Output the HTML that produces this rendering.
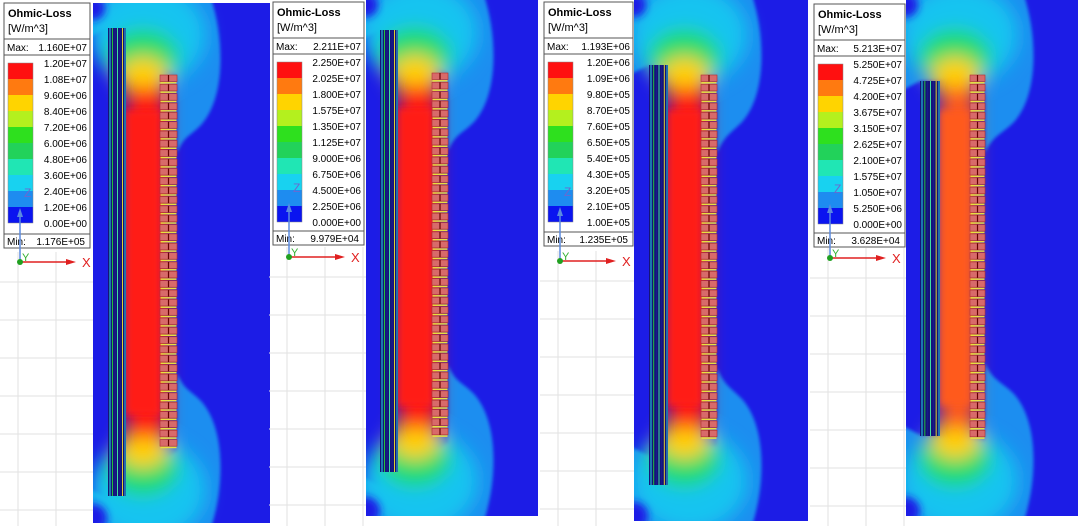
<!DOCTYPE html>
<html><head><meta charset="utf-8"><style>
body{margin:0;background:#fff;width:1080px;height:526px;overflow:hidden}
svg{display:block}
text{font-family:"Liberation Sans",sans-serif}
</style></head><body>
<svg id="s" width="1080" height="526" viewBox="0 0 1080 526" xmlns="http://www.w3.org/2000/svg">
<defs>
<filter id="b" x="-50%" y="-50%" width="200%" height="200%"><feGaussianBlur stdDeviation="9"/></filter>
<filter id="b2" x="-30%" y="-30%" width="160%" height="160%"><feGaussianBlur stdDeviation="4"/></filter>
<filter id="b1" x="-10%" y="-10%" width="120%" height="120%"><feGaussianBlur stdDeviation="1.5"/></filter>
</defs>
</svg>
<script>
const P=[
{lx:4,ly:3,lw:86,lh:245,fx:93,fy:3,fw:177,fh:520,w1:108,w2:126,wt:28,wb:496,c1:160,c2:177,ct:75,cb:450,ay:262,
 core:"#ff1e14",title:["1.160E+07","1.176E+05"],vals:["1.20E+07","1.08E+07","9.60E+06","8.40E+06","7.20E+06","6.00E+06","4.80E+06","3.60E+06","2.40E+06","1.20E+06","0.00E+00"]},
{lx:273,ly:2,lw:91,lh:243,fx:366,fy:0,fw:172,fh:516,w1:380,w2:398,wt:30,wb:472,c1:432,c2:448,ct:73,cb:441,ay:257,
 core:"#ff1e14",title:["2.211E+07","9.979E+04"],vals:["2.250E+07","2.025E+07","1.800E+07","1.575E+07","1.350E+07","1.125E+07","9.000E+06","6.750E+06","4.500E+06","2.250E+06","0.000E+00"]},
{lx:544,ly:2,lw:89,lh:244,fx:634,fy:0,fw:174,fh:521,w1:649,w2:668,wt:65,wb:485,c1:701,c2:717,ct:75,cb:441,ay:261,
 core:"#ff1e14",title:["1.193E+06","1.235E+05"],vals:["1.20E+06","1.09E+06","9.80E+05","8.70E+05","7.60E+05","6.50E+05","5.40E+05","4.30E+05","3.20E+05","2.10E+05","1.00E+05"]},
{lx:814,ly:4,lw:91,lh:243,fx:906,fy:0,fw:172,fh:516,w1:920,w2:940,wt:81,wb:436,c1:970,c2:985,ct:75,cb:441,ay:258,
 core:"#ff5a1e",title:["5.213E+07","3.628E+04"],vals:["5.250E+07","4.725E+07","4.200E+07","3.675E+07","3.150E+07","2.625E+07","2.100E+07","1.575E+07","1.050E+07","5.250E+06","0.000E+00"]}
];
const sw=["#ff1010","#ff7a10","#ffd400","#b4f01e","#2ee01e","#22d25a","#20e6b4","#18d2f0","#1e8cf0","#0a14f0"];
let h="";
P.forEach((p,i)=>{
 const gx0=p.lx-4, gx1=p.fx;
 for(let y=p.ay+20;y<526;y+=38) h+=`<line x1="${gx0}" y1="${y}" x2="${gx1}" y2="${y}" stroke="#e2e2e2"/>`;
 for(let x=p.lx+14;x<gx1;x+=38) h+=`<line x1="${x}" y1="${p.ay-10}" x2="${x}" y2="526" stroke="#e2e2e2"/>`;
 const cid="c"+i, X=p.fx, cr=p.c2, mx=(p.w2+p.c1)/2, Y0=p.fy, H=p.fy+p.fh;
 h+=`<clipPath id="${cid}"><rect x="${p.fx}" y="${p.fy}" width="${p.fw}" height="${p.fh}"/></clipPath>`;
 h+=`<g clip-path="url(#${cid})"><rect x="${p.fx}" y="${p.fy}" width="${p.fw}" height="${p.fh}" fill="#1c1ce6"/>`;
 const top=`M${X-5},${Y0-5} L${X+118},${Y0-5} C${X+132},${Y0+40} ${X+132},${Y0+95} ${X+108},${Y0+122} C${X+95},${Y0+135} ${cr+8},${p.ct+60} ${cr},${p.ct+78} L${cr},${p.ct} L${p.w1},${p.wt} L${X-5},${p.wt+10} Z`;
 h+=`<g filter="url(#b1)"><path d="${top}" fill="#1f8ef0"/><path d="${top}" fill="#1f8ef0" transform="translate(0,${Y0+H}) scale(1,-1)"/></g>`;
 h+=`<g filter="url(#b)">`;
 [[p.ct,-1],[p.cb,1]].forEach(([cy,d])=>{
  h+=`<ellipse cx="${mx+5}" cy="${cy+d*40}" rx="58" ry="50" fill="#18c4f0"/>`;
  h+=`<ellipse cx="${mx}" cy="${cy+d*18}" rx="36" ry="28" fill="#22dc6a"/>`;
  h+=`<ellipse cx="${mx}" cy="${cy-d*2}" rx="24" ry="20" fill="#ffd000"/>`;
 });
 h+=`<rect x="${p.w2}" y="${p.ct+12}" width="${p.c1-p.w2+6}" height="${p.cb-p.ct-24}" fill="${p.core}"/>`;
 h+=`</g>`;
 h+=`<rect x="${p.w2}" y="${p.ct+35}" width="${p.c1-p.w2}" height="${p.cb-p.ct-70}" fill="${p.core}" filter="url(#b2)"/>`;
 h+=`<ellipse cx="${p.fx}" cy="${p.fy+5}" rx="12" ry="12" fill="#1c1ce6" filter="url(#b2)"/>`;
 h+=`<ellipse cx="${p.fx}" cy="${p.fy+p.fh-5}" rx="14" ry="14" fill="#1c1ce6" filter="url(#b2)"/>`;
 const ww=p.w2-p.w1;
 h+=`<rect x="${p.w1}" y="${p.wt}" width="${ww}" height="${p.wb-p.wt}" fill="#141478"/>`;
 const cols=["#1fd8e8","#22c040","#1a1a90","#40e0a0","#1a1a90","#e0d030","#30c8e0"];
 for(let k=0;k<7;k++){const x=p.w1+2+k*(ww-3)/6;h+=`<line x1="${x}" y1="${p.wt}" x2="${x}" y2="${p.wb}" stroke="${cols[k]}" stroke-width="1"/>`;}
 for(let y=p.ct;y<p.cb-5;y+=9.35){
  h+=`<rect x="${p.c1}" y="${y}" width="${p.c2-p.c1}" height="6.5" fill="#d86a6a" stroke="#b03030" stroke-width="0.6"/>`;
  h+=`<line x1="${(p.c1+p.c2)/2}" y1="${y}" x2="${(p.c1+p.c2)/2}" y2="${y+6.5}" stroke="#600" stroke-width="1.2"/>`;
  h+=`<line x1="${p.c1+0.5}" y1="${y+7.8}" x2="${p.c2-0.5}" y2="${y+7.8}" stroke="#e8e040" stroke-width="1.5"/>`;
 }
 h+=`</g>`;
 h+=`<rect x="${p.lx}" y="${p.ly}" width="${p.lw}" height="${p.lh}" fill="#fff" stroke="#555"/>`;
 h+=`<text x="${p.lx+4}" y="${p.ly+14}" font-size="11" font-weight="bold">Ohmic-Loss</text>`;
 h+=`<text x="${p.lx+4}" y="${p.ly+29}" font-size="11">[W/m^3]</text>`;
 h+=`<line x1="${p.lx}" y1="${p.ly+36}" x2="${p.lx+p.lw}" y2="${p.ly+36}" stroke="#555"/>`;
 h+=`<text x="${p.lx+3}" y="${p.ly+48}" font-size="10">Max:</text><text x="${p.lx+p.lw-3}" y="${p.ly+48}" font-size="10" text-anchor="end">${p.title[0]}</text>`;
 h+=`<line x1="${p.lx}" y1="${p.ly+52}" x2="${p.lx+p.lw}" y2="${p.ly+52}" stroke="#555"/>`;
 const sy=p.ly+60, sh=16;
 sw.forEach((c,k)=>h+=`<rect x="${p.lx+4}" y="${sy+k*sh}" width="25" height="${sh}" fill="${c}"/>`);
 h+=`<rect x="${p.lx+4}" y="${sy}" width="25" height="${sh*10}" fill="none" stroke="#888" stroke-width="0.5"/>`;
 p.vals.forEach((v,k)=>h+=`<text x="${p.lx+p.lw-3}" y="${sy+k*sh+4}" font-size="10" text-anchor="end">${v}</text>`);
 h+=`<line x1="${p.lx}" y1="${p.ly+p.lh-14}" x2="${p.lx+p.lw}" y2="${p.ly+p.lh-14}" stroke="#555"/>`;
 h+=`<text x="${p.lx+3}" y="${p.ly+p.lh-3}" font-size="10">Min:</text><text x="${p.lx+p.lw-5}" y="${p.ly+p.lh-3}" font-size="10" text-anchor="end">${p.title[1]}</text>`;
 const ax=p.lx+16;
 h+=`<text x="${ax+4}" y="${p.ay-65}" font-size="12" fill="#6a6ad0">Z</text>`;
 h+=`<line x1="${ax}" y1="${p.ay}" x2="${ax}" y2="${p.ay-50}" stroke="#5a8ae0" stroke-width="1.5"/><path d="M${ax-3} ${p.ay-45}L${ax} ${p.ay-54}L${ax+3} ${p.ay-45}Z" fill="#5a8ae0"/>`;
 h+=`<line x1="${ax}" y1="${p.ay}" x2="${ax+50}" y2="${p.ay}" stroke="#e02020" stroke-width="1.5"/><path d="M${ax+46} ${p.ay-3}L${ax+56} ${p.ay}L${ax+46} ${p.ay+3}Z" fill="#e02020"/>`;
 h+=`<text x="${ax+62}" y="${p.ay+5}" font-size="13" fill="#e02020">X</text>`;
 h+=`<text x="${ax+2}" y="${p.ay-1}" font-size="11" fill="#30b030">Y</text>`;
 h+=`<circle cx="${ax}" cy="${p.ay}" r="3" fill="#20a020"/>`;
});
document.getElementById("s").insertAdjacentHTML("beforeend",h);
</script>
</body></html>
